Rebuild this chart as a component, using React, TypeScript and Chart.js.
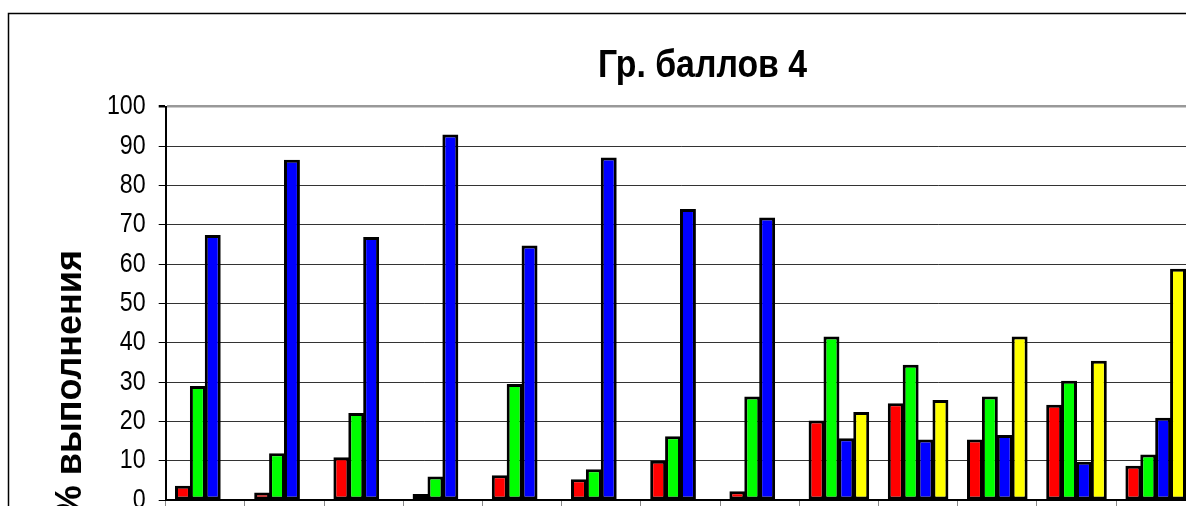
import { useEffect, useRef } from 'react';
import { Chart, registerables } from 'chart.js';

Chart.register(...registerables);

const categories = ['1', '2', '3', '4', '5', '6', '7', '8', '9', '10', '11', '12', '13'];
const redValues = [3.6, 1.9, 10.9, 1.5, 6.3, 5.3, 10.0, 2.2, 20.2, 24.6, 15.4, 24.2, 8.7];
const greenValues = [29.0, 11.9, 22.1, 6.0, 29.5, 7.8, 16.2, 26.3, 41.6, 34.4, 26.3, 30.3, 11.6];
const blueValues = [67.4, 86.5, 66.9, 92.9, 64.7, 87.1, 74.0, 71.8, 15.7, 15.4, 16.5, 9.7, 20.9];
const yellowValues = [null, null, null, null, null, null, null, null, 22.4, 25.4, 41.6, 35.4, 58.8];
const chartTitle = 'Гр. баллов 4';
const yAxisTitle = '% выполнения';

const W = 1230;
const H = 560;

export default function App() {
  const ref = useRef<HTMLCanvasElement>(null);
  useEffect(() => {
    document.body.style.margin = '0';
    const decor = {
      id: 'decor',
      beforeDraw(chart: any) {
        const ctx = chart.ctx;
        ctx.save();
        ctx.fillStyle = '#fff';
        ctx.fillRect(0, 0, W, H);
        ctx.strokeStyle = '#000';
        ctx.lineWidth = 1.5;
        ctx.strokeRect(8.5, 13.5, W + 20, H + 20);
        ctx.restore();
      },
      afterDraw(chart: any) {
        const ctx = chart.ctx;
        ctx.save();
        ctx.fillStyle = '#000';
        ctx.save();
        ctx.translate(702.5, 76.7);
        ctx.scale(0.867, 1);
        ctx.font = "bold 39px 'Liberation Sans', Arial, sans-serif";
        ctx.textAlign = 'center';
        ctx.textBaseline = 'alphabetic';
        ctx.fillText(chartTitle, 0, 0);
        ctx.restore();
        const ys = chart.scales.y;
        ctx.font = "28px 'Liberation Sans', Arial, sans-serif";
        ctx.textAlign = 'right';
        ctx.textBaseline = 'middle';
        ys.ticks.forEach((t: any) => {
          const py = ys.getPixelForValue(t.value);
          ctx.save();
          ctx.translate(ys.right - 20, py);
          ctx.scale(0.83, 1);
          ctx.fillText(String(t.value), 0, 0);
          ctx.restore();
        });
        ctx.translate(80.7, 250);
        ctx.rotate(-Math.PI / 2);
        ctx.font = "bold 36px 'Liberation Sans', Arial, sans-serif";
        ctx.textAlign = 'right';
        ctx.textBaseline = 'alphabetic';
        ctx.fillText(yAxisTitle, 0, 0);
        ctx.restore();
      },
    };
    const mk = (data: any, color: string) => ({
      data,
      backgroundColor: color,
      borderColor: '#000000',
      borderWidth: 3,
      borderSkipped: false,
      categoryPercentage: 0.752,
      barPercentage: 1.07,
    });
    const chart = new Chart(ref.current!, {
      type: 'bar',
      data: {
        labels: categories,
        datasets: [
          mk(redValues, '#ff0000'),
          mk(greenValues, '#00ff00'),
          mk(blueValues, '#0000ff'),
          mk(yellowValues, '#ffff00'),
        ] as any,
      },
      options: {
        responsive: false,
        animation: false,
        layout: { padding: { top: 106.7, right: W - 1195.3, left: 0, bottom: 0 } },
        plugins: {
          legend: { display: false },
          tooltip: { enabled: false },
          title: { display: false },
        },
        scales: {
          x: {
            offset: true,
            grid: {
              drawOnChartArea: false,
              drawTicks: true,
              tickLength: 7,
              tickColor: '#888',
              offset: true,
            },
            ticks: { display: false },
            border: { display: true, color: '#000', width: 2 },
            afterFit: (s: any) => {
              s.height = H - 500;
            },
          },
          y: {
            min: 0,
            max: 100,
            ticks: {
              stepSize: 10,
              display: false,
            },
            grid: {
              color: (c: any) => (c.tick && c.tick.value === 100 ? '#999' : '#333'),
              lineWidth: (c: any) => (c.tick && c.tick.value === 100 ? 2.5 : 1),
              tickLength: 7,
              tickColor: '#000',
            },
            border: { display: true, color: '#000', width: 2 },
            afterFit: (s: any) => {
              s.width = 165.7;
            },
          },
        },
      },
      plugins: [decor],
    });
    return () => chart.destroy();
  }, []);
  return (
    <div style={{ position: 'fixed', left: 0, top: 0, width: 1186, height: 506, overflow: 'hidden' }}>
      <canvas ref={ref} width={W} height={H} style={{ width: W, height: H, display: 'block' }} />
    </div>
  );
}
